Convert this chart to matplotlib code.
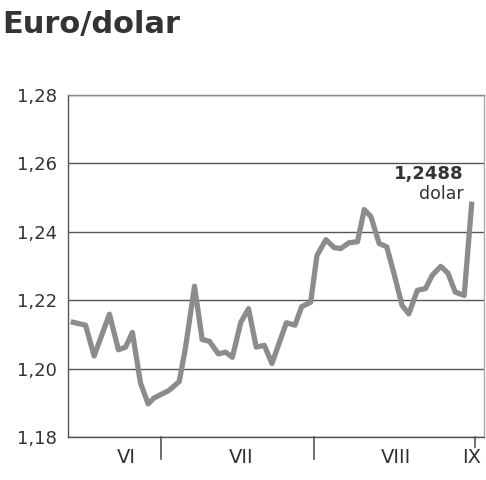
import matplotlib.pyplot as plt

# kurs euro/dolar (x w dniach od początku czerwca)
days = [0.6, 3.9, 5.8, 9.2, 11.2, 12.8, 14.3, 16.1, 17.8, 19.1, 22.4, 24.7,
        26.1, 28.1, 29.8, 31.4, 33.4, 35.0, 36.5, 38.4, 40.1, 41.8, 43.6, 45.3,
        48.5, 50.4, 51.9, 53.9, 55.3, 57.3, 59.1, 60.6, 62.4, 64.3, 65.8, 67.3,
        69.1, 70.8, 72.4, 74.2, 75.7, 77.6, 79.4, 80.9, 82.8, 84.4, 86.0, 88.0,
        89.7]
rate = [1.2137, 1.2127, 1.2037, 1.2159, 1.2055, 1.2063, 1.2106, 1.1958, 1.1897,
        1.1914, 1.1936, 1.1962, 1.2061, 1.2241, 1.2085, 1.2080, 1.2043, 1.2048,
        1.2033, 1.2136, 1.2175, 1.2063, 1.2068, 1.2015, 1.2134, 1.2127, 1.2181,
        1.2194, 1.2331, 1.2377, 1.2354, 1.2351, 1.2368, 1.2371, 1.2465, 1.2444,
        1.2366, 1.2356, 1.2278, 1.2185, 1.2160, 1.2229, 1.2234, 1.2273, 1.2299,
        1.2279, 1.2224, 1.2214, 1.2488]

month_ticks = [20.7, 54.7, 90.4]
month_pos = [12.9, 38.4, 72.9, 89.6]
month_labels = ['VI', 'VII', 'VIII', 'IX']
y_ticks = [1.18, 1.20, 1.22, 1.24, 1.26, 1.28]

fig = plt.figure(figsize=(4.86, 4.8), dpi=100)
ax = fig.add_axes([68 / 486, 1 - 437 / 480, 416 / 486, 342 / 480])

ax.plot(days, rate, color='#8c8c8c', lw=3.8, solid_joinstyle='round',
        solid_capstyle='butt', zorder=3)

ax.set_xlim(0, 92.4)
ax.set_ylim(1.18, 1.28)
ax.set_yticks(y_ticks)
ax.set_yticklabels([('%.2f' % v).replace('.', ',') for v in y_ticks])
ax.yaxis.grid(True, color='#555555', lw=1.0)
ax.set_axisbelow(True)
ax.tick_params(axis='y', length=0, pad=8, labelsize=13, labelcolor='#333333')

# kreski podziału miesięcy pod osią
ax.set_xticks([])
xt = ax.get_xaxis_transform()
tick_len = [0.064, 0.064, 0.03]
for t, l in zip(month_ticks, tick_len):
    ax.plot([t, t], [0, -l], transform=xt, color='#555555', lw=1.2, clip_on=False)
for p, lab in zip(month_pos, month_labels):
    ax.text(p, -0.06, lab, transform=xt, ha='center', va='center',
            fontsize=14, color='#333333')

ax.spines['left'].set_color('#555555')
ax.spines['bottom'].set_color('#555555')
ax.spines['top'].set_color('#888888')
ax.spines['right'].set_color('#aaaaaa')
for s in ax.spines.values():
    s.set_linewidth(1.0)

ax.text(87.8, 1.2568, '1,2488', ha='right', va='center', fontsize=13,
        fontweight='bold', color='#333333')
ax.text(87.8, 1.2510, 'dolar', ha='right', va='center', fontsize=12.5,
        color='#333333')

fig.text(2 / 486, 1 - 24 / 480, 'Euro/dolar', fontsize=22, fontweight='bold',
         color='#333333', ha='left', va='center')

fig.savefig('out.png', dpi=100)
